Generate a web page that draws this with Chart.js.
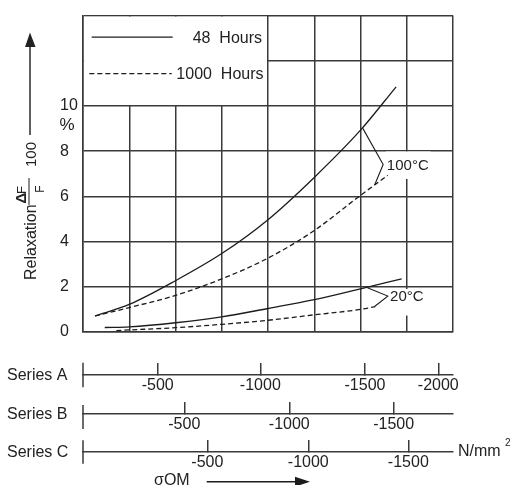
<!DOCTYPE html>
<html><head><meta charset="utf-8">
<script src="https://cdn.jsdelivr.net/npm/chart.js@4.4.1/dist/chart.umd.min.js"></script>
<style>html,body{margin:0;padding:0;background:#fff;overflow:hidden}</style>
</head><body>
<canvas id="c" width="511" height="485"></canvas>
<script>
// ---- data (x in grid columns of the relaxation plot, y in %) ----
const hot48X   = [0.26, 1, 2, 3, 4, 5, 6, 6.77];
const hot48Y   = [0.71, 1.22, 2.27, 3.47, 4.97, 6.84, 8.93, 10.85];
const hot1000X = [0.26, 1, 2, 3, 4, 5, 5.97, 6.59];
const hot1000Y = [0.71, 1.08, 1.62, 2.35, 3.27, 4.49, 6.0, 6.94];
const cold48X   = [0.47, 1, 2, 3, 4, 5, 6, 6.89];
const cold48Y   = [0.2, 0.23, 0.41, 0.67, 1.04, 1.43, 1.91, 2.35];
const cold1000X = [0.72, 1, 2, 3, 4, 5, 6, 6.32];
const cold1000Y = [0.06, 0.09, 0.19, 0.34, 0.52, 0.76, 1.0, 1.12];
const bracket100X = [6.05, 6.49, 6.31];
const bracket100Y = [9.01, 7.41, 6.53];
const bracket20X = [6.15, 6.59, 6.31];
const bracket20Y = [1.96, 1.59, 1.14];

const yTickMaxLabel = 10;
const legendLabels = ['48  Hours', '1000  Hours'];
const tempLabels = ['100\u00B0C', '20\u00B0C'];
const seriesNames = ['Series A', 'Series B', 'Series C'];
// stress tick labels (N/mm²) and where they sit on the plot's column axis
const seriesATicks = [-500, -1000, -1500, -2000];
const seriesAAt    = [1.615, 3.834, 6.097, 7.682];
const seriesBTicks = [-500, -1000, -1500];
const seriesBAt    = [2.19, 4.46, 6.718];
const seriesCTicks = [-500, -1000, -1500];
const seriesCAt    = [2.688, 4.871, 7.034];

const INK = '#3a3a3a', CURVE = '#1c1c1c', TXT = '#222';
const FONT = "'Liberation Sans', Arial, Helvetica, sans-serif";
Chart.defaults.font.family = FONT;
Chart.defaults.color = TXT;

const pts = (xs, ys) => xs.map((v, i) => ({x: v, y: ys[i]}));

function curve(xs, ys, dashed) {
  return {data: pts(xs, ys), showLine: true, pointRadius: 0, borderColor: CURVE,
    borderWidth: 1.3, borderDash: dashed ? [5, 3] : [], cubicInterpolationMode: 'monotone',
    fill: false, xAxisID: 'x', yAxisID: 'y'};
}
function bracket(xs, ys) {
  return {data: pts(xs, ys), showLine: true, pointRadius: 0, borderColor: CURVE,
    borderWidth: 1.1, tension: 0, fill: false, xAxisID: 'x', yAxisID: 'y'};
}
function stressAxis(at, labels, weight, h) {
  return {
    type: 'linear', position: 'bottom', weight, min: 0, max: 8,
    afterBuildTicks: s => { s.ticks = at.map(v => ({value: v})); },
    afterFit: s => { s.height = h; },
    grid: {drawOnChartArea: false, drawTicks: true, tickLength: -12, color: INK, lineWidth: 1.5},
    border: {display: true, color: INK, width: 1.5},
    ticks: {autoSkip: false, maxRotation: 0, minRotation: 0, padding: 13, color: TXT,
      font: {size: 16}, callback: (v, i) => String(labels[i])}
  };
}

const decor = {
  id: 'decor',
  beforeDatasetsDraw(chart) {
    const {ctx, chartArea: ca, scales: {x, y}} = chart;
    ctx.save();
    ctx.fillStyle = '#fff';
    const rx = x.getPixelForValue(4), by = y.getPixelForValue(10);
    ctx.fillRect(ca.left + 1, ca.top + 1, rx - ca.left - 2, by - ca.top - 2);
    ctx.font = `15px ${FONT}`;
    const lx = [6.57, 6.64], lyv = [7.39, 1.57], off = [-13.5, -7.5], hh = [27.5, 26.5];
    tempLabels.forEach((t, i) => {
      const px = x.getPixelForValue(lx[i]), py = y.getPixelForValue(lyv[i]);
      const w = ctx.measureText(t).width;
      ctx.fillRect(px - 1, py + off[i], w + 3, hh[i]);
    });
    ctx.restore();
  },
  afterDatasetsDraw(chart) {
    const {ctx, chartArea: ca, scales: {x, y}} = chart;
    ctx.save();
    ctx.strokeStyle = CURVE; ctx.fillStyle = TXT;
    // legend
    ctx.lineWidth = 1.3;
    ctx.beginPath(); ctx.moveTo(ca.left + 8.7, ca.top + 21.5); ctx.lineTo(ca.left + 89.7, ca.top + 21.5); ctx.stroke();
    ctx.setLineDash([5, 3]);
    ctx.beginPath(); ctx.moveTo(ca.left + 6.3, ca.top + 58); ctx.lineTo(ca.left + 88.7, ca.top + 58); ctx.stroke();
    ctx.setLineDash([]);
    ctx.font = `16px ${FONT}`; ctx.textAlign = 'right'; ctx.textBaseline = 'middle';
    ctx.fillText(legendLabels[0], ca.left + 179, ca.top + 22.5);
    ctx.fillText(legendLabels[1], ca.left + 180.5, ca.top + 59);
    // temperature labels
    ctx.font = `15px ${FONT}`; ctx.textAlign = 'left';
    const lx = [6.57, 6.64], lyv = [7.39, 1.57];
    tempLabels.forEach((t, i) => ctx.fillText(t, x.getPixelForValue(lx[i]), y.getPixelForValue(lyv[i]) + 0.5));
    // % sign
    ctx.font = `17px ${FONT}`; ctx.textAlign = 'center';
    ctx.fillText('%', 67, 125);
    // rotated y title
    ctx.save();
    ctx.rotate(-Math.PI / 2);
    ctx.textAlign = 'left'; ctx.textBaseline = 'alphabetic';
    ctx.font = `16px ${FONT}`; ctx.fillText('Relaxation', -280, 36);
    ctx.font = `bold 15px ${FONT}`; ctx.fillText('\u0394', -203.5, 26);
    ctx.font = `13px ${FONT}`; ctx.fillText('F', -194, 26);
    ctx.lineWidth = 1;
    ctx.beginPath(); ctx.moveTo(-205, 29); ctx.lineTo(-178, 29); ctx.stroke();
    ctx.font = `12px ${FONT}`; ctx.textAlign = 'center'; ctx.fillText('F', -189, 43.5);
    ctx.textAlign = 'left'; ctx.font = `15px ${FONT}`; ctx.fillText('100', -167, 36);
    ctx.restore();
    // up arrow
    ctx.lineWidth = 1.4;
    ctx.beginPath(); ctx.moveTo(30, 135); ctx.lineTo(30, 46); ctx.stroke();
    ctx.beginPath(); ctx.moveTo(30, 32.5); ctx.lineTo(25, 47); ctx.lineTo(35.5, 47); ctx.closePath(); ctx.fill();
    ctx.restore();
  },
  afterDraw(chart) {
    const {ctx, chartArea: ca, scales} = chart;
    ctx.save();
    ctx.strokeStyle = INK; ctx.fillStyle = TXT; ctx.lineWidth = 1.5;
    const axes = [scales.sa, scales.sb, scales.sc];
    const up = [12.3, 9, 11.7], down = [12.3, 15, 11.7];
    ctx.font = `16px ${FONT}`; ctx.textAlign = 'left'; ctx.textBaseline = 'middle';
    axes.forEach((s, i) => {
      const ly = s.top;
      ctx.beginPath(); ctx.moveTo(ca.left, ly - up[i]); ctx.lineTo(ca.left, ly + down[i]); ctx.stroke();
      ctx.fillText(seriesNames[i], 7, ly + 0.5);
    });
    const cy = scales.sc.top;
    ctx.fillText('N/mm', 458, cy);
    ctx.font = `10px ${FONT}`; ctx.fillText('2', 505, cy - 9);
    ctx.font = `16px ${FONT}`; ctx.textBaseline = 'alphabetic';
    ctx.fillText('\u03C3OM', 154, 485);
    ctx.strokeStyle = CURVE; ctx.fillStyle = CURVE; ctx.lineWidth = 1.4;
    ctx.beginPath(); ctx.moveTo(206.7, 481.7); ctx.lineTo(297, 481.7); ctx.stroke();
    ctx.beginPath(); ctx.moveTo(310, 481.7); ctx.lineTo(295, 476.7); ctx.lineTo(295, 486.7); ctx.closePath(); ctx.fill();
    ctx.restore();
  }
};

new Chart(document.getElementById('c'), {
  type: 'scatter',
  data: {datasets: [
    curve(hot48X, hot48Y, false), curve(hot1000X, hot1000Y, true),
    curve(cold48X, cold48Y, false), curve(cold1000X, cold1000Y, true),
    bracket(bracket100X, bracket100Y), bracket(bracket20X, bracket20Y)
  ]},
  options: {
    responsive: false, animation: false, devicePixelRatio: 1,
    layout: {padding: {left: 60, right: 58, top: 12, bottom: 13}},
    plugins: {legend: {display: false}, tooltip: {enabled: false}},
    events: [],
    scales: {
      x: {type: 'linear', position: 'bottom', weight: 0, min: 0, max: 8,
        ticks: {display: false, stepSize: 1},
        grid: {color: INK, lineWidth: 1.5, drawTicks: false},
        border: {display: true, color: INK, width: 1.5},
        afterFit: s => { s.height = 43; }},
      y: {type: 'linear', position: 'left', min: 0, max: 14,
        ticks: {stepSize: 2, crossAlign: 'far', color: TXT, font: {size: 16}, padding: 6,
          callback: v => v <= yTickMaxLabel ? String(v) : ''},
        grid: {color: INK, lineWidth: 1.5, drawTicks: false},
        border: {display: true, color: INK, width: 1.5},
        afterFit: s => { s.width = 23; }},
      sa: stressAxis(seriesAAt, seriesATicks, 1, 39),
      sb: stressAxis(seriesBAt, seriesBTicks, 2, 38),
      sc: stressAxis(seriesCAt, seriesCTicks, 3, 20)
    }
  },
  plugins: [decor]
});
</script>
</body></html>
